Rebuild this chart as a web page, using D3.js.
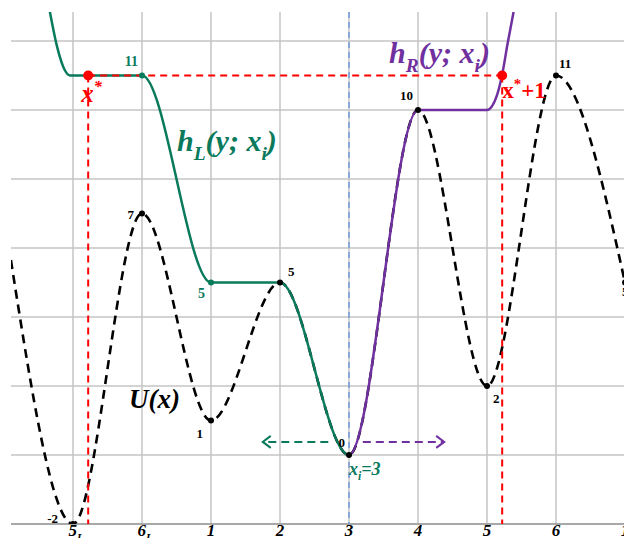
<!DOCTYPE html>
<html>
<head>
<meta charset="utf-8">
<script src="https://cdn.jsdelivr.net/npm/d3@7"></script>
<style>
  body { margin: 0; background: #fff; }
  svg { display: block; }
  text { font-family: "Liberation Serif", "DejaVu Serif", serif; font-weight: bold; }
</style>
</head>
<body>
<svg id="chart"></svg>
<script>
// x positions are in "site" units, 0 = 5_L
var tickLabels = ['5', '6', '1', '2', '3', '4', '5', '6', '1'];
var tickSubs = ['L', 'L', '', '', '', '', '', '', ''];
var gridValues = [-2, 0, 2, 4, 6, 8, 10, 12];

// U(x) - dashed potential
var uX = [-0.9, 0, 1, 2, 3, 4, 5, 6, 7, 8];
var uY = [5.65, -2, 7, 1, 5, 0, 10, 2, 11, 5];
var uLabels = ['', '-2', '7', '1', '5', '0', '10', '2', '11', '5'];

// h_L(y; x_i)
var hLX = [-0.34, -0.23, -0.12, -0.04, 1, 2, 3, 4, 4.001];
var hLY = [12.9, 11.83, 11.16, 11, 11, 5, 5, 0, 0];
var hLDots = [[1, 11, '11'], [2, 5, '5']];

// h_R(y; x_i)
var hRX = [3.999, 4, 5, 6, 6.145, 6.217, 6.3, 6.4];
var hRY = [0, 0, 10, 10, 10.43, 11, 11.94, 13];

var xi = 4;
var xStar = [0.22, 6.22];
var starLevel = 11;
var arrowLevel = 0.38;
var arrowL = [3.7, 2.75];
var arrowR = [4.2, 5.38];

var width = 624, height = 538;
var green = '#097a5c', purple = '#7030a0', red = '#ff0000';

var x = d3.scaleLinear().domain([0, 8]).range([73, 625]);
var y = d3.scaleLinear().domain([-2, 12]).range([524, 41]);
var plotLeft = 11, plotTop = 12, plotBottom = 524;

var svg = d3.select('#chart').attr('width', width).attr('height', height);

svg.append('defs').append('clipPath').attr('id', 'plot')
  .append('rect').attr('x', plotLeft).attr('y', plotTop)
  .attr('width', width - plotLeft).attr('height', plotBottom - plotTop);

// grid
svg.append('g').selectAll('line').data(d3.range(tickLabels.length)).enter().append('line')
  .attr('x1', d => x(d)).attr('x2', d => x(d))
  .attr('y1', plotTop).attr('y2', plotBottom)
  .attr('stroke', '#c4c4c4').attr('stroke-width', 1.5);

svg.append('g').selectAll('line').data(gridValues).enter().append('line')
  .attr('x1', plotLeft).attr('x2', width)
  .attr('y1', d => y(d)).attr('y2', d => y(d))
  .attr('stroke', d => d === -2 ? '#a8a8a8' : '#c4c4c4')
  .attr('stroke-width', d => d === -2 ? 2 : 1.5);

// text with sub / superscripts
function richText(sel, parts, size) {
  var shift = 0;
  parts.forEach(function(p) {
    var target = p[1] === 'sub' ? size * 0.3 : (p[1] === 'sup' ? -size * 0.4 : 0);
    var t = sel.append('tspan').text(p[0]).attr('dy', target - shift);
    if (p[1]) t.style('font-size', (size * 0.65) + 'px');
    shift = target;
  });
  return sel;
}

tickLabels.forEach(function(t, i) {
  var txt = svg.append('text')
    .attr('x', x(i) + (tickSubs[i] ? 3 : 0)).attr('y', 536)
    .attr('text-anchor', 'middle')
    .style('font-size', '17px').style('font-style', 'italic');
  richText(txt, [[t, null], [tickSubs[i], 'sub']], 17);
});

var plot = svg.append('g').attr('clip-path', 'url(#plot)');

// x_i marker
plot.append('line')
  .attr('x1', x(xi)).attr('x2', x(xi)).attr('y1', plotTop).attr('y2', plotBottom)
  .attr('stroke', '#5b8edb').attr('stroke-width', 1.2).attr('stroke-dasharray', '6,4');

var line = d3.line()
  .x(d => x(d[0])).y(d => y(d[1]))
  .curve(d3.curveMonotoneX);

plot.append('path')
  .attr('d', line(d3.zip(uX, uY)))
  .attr('fill', 'none').attr('stroke', '#000')
  .attr('stroke-width', 2.6).attr('stroke-dasharray', '9,6');

plot.append('path')
  .attr('d', line(d3.zip(hLX, hLY)))
  .attr('fill', 'none').attr('stroke', green).attr('stroke-width', 2.5);

plot.append('path')
  .attr('d', line(d3.zip(hRX, hRY)))
  .attr('fill', 'none').attr('stroke', purple).attr('stroke-width', 2.5);

// direction arrows
function arrow(pts, color) {
  var g = svg.append('g');
  var dir = pts[1] > pts[0] ? 1 : -1;
  var yy = y(arrowLevel);
  g.append('line')
    .attr('x1', x(pts[0])).attr('x2', x(pts[1]) - dir)
    .attr('y1', yy).attr('y2', yy)
    .attr('stroke', color).attr('stroke-width', 2).attr('stroke-dasharray', '8,5');
  var tip = x(pts[1]);
  g.append('path')
    .attr('d', 'M' + (tip - dir * 8) + ',' + (yy - 6) + 'L' + tip + ',' + yy + 'L' + (tip - dir * 8) + ',' + (yy + 6))
    .attr('fill', 'none').attr('stroke', color).attr('stroke-width', 2);
}
arrow(arrowL, green);
arrow(arrowR, purple);

// red x* construction
plot.append('line')
  .attr('x1', x(xStar[0])).attr('x2', x(xStar[1]))
  .attr('y1', y(starLevel)).attr('y2', y(starLevel))
  .attr('stroke', red).attr('stroke-width', 2).attr('stroke-dasharray', '7,5');

plot.selectAll('line.star').data(xStar).enter().append('line')
  .attr('x1', d => x(d)).attr('x2', d => x(d))
  .attr('y1', y(starLevel)).attr('y2', plotBottom)
  .attr('stroke', red).attr('stroke-width', 2).attr('stroke-dasharray', '7,5');

// dots
plot.selectAll('circle.u').data(d3.zip(uX, uY).slice(1)).enter().append('circle')
  .attr('cx', d => x(d[0])).attr('cy', d => y(d[1])).attr('r', 3).attr('fill', '#000');

svg.selectAll('circle.hl').data(hLDots).enter().append('circle')
  .attr('cx', d => x(d[0])).attr('cy', d => y(d[1])).attr('r', 3).attr('fill', green);

svg.selectAll('circle.star').data(xStar).enter().append('circle')
  .attr('cx', d => x(d)).attr('cy', y(starLevel)).attr('r', 5).attr('fill', red);

// labels at extrema of U
var uOff = [null, [-15, -1, 'end'], [-8, 5, 'end'], [-8, 17, 'end'], [8, -7, 'start'], [-4, -8, 'end'],
            [-5, -10, 'end'], [6, 17, 'start'], [3, -8, 'start'], [-3, 13, 'start']];
uLabels.forEach(function(t, i) {
  if (!t) return;
  var o = uOff[i];
  svg.append('text')
    .attr('x', x(uX[i]) + o[0]).attr('y', y(uY[i]) + o[1])
    .attr('text-anchor', o[2])
    .style('font-size', '13px').attr('fill', '#000')
    .text(t);
});

svg.append('text').attr('x', x(1) - 4).attr('y', y(11) - 10)
  .attr('text-anchor', 'end').attr('fill', green).style('font-size', '14px').text(hLDots[0][2]);
svg.append('text').attr('x', x(2) - 6).attr('y', y(5) + 15)
  .attr('text-anchor', 'end').attr('fill', green).style('font-size', '14px').text(hLDots[1][2]);

// curve names
richText(svg.append('text').attr('x', 177).attr('y', 151).attr('fill', green)
  .style('font-size', '30px').style('font-style', 'italic'),
  [['h', null], ['L', 'sub'], ['(y; x', null], ['i', 'sub'], [')', null]], 30);

richText(svg.append('text').attr('x', 389).attr('y', 63).attr('fill', purple)
  .style('font-size', '30px').style('font-style', 'italic'),
  [['h', null], ['R', 'sub'], ['(y; x', null], ['i', 'sub'], [')', null]], 30);

svg.append('text').attr('x', 129).attr('y', 408)
  .style('font-size', '27px').style('font-style', 'italic').text('U(x)');

richText(svg.append('text').attr('x', x(xi)).attr('y', 475).attr('fill', green)
  .style('font-size', '18px').style('font-style', 'italic'),
  [['x', null], ['i', 'sub'], ['=3', null]], 18);

richText(svg.append('text').attr('x', x(xStar[0]) - 7).attr('y', 102).attr('fill', red)
  .style('font-size', '25px').style('font-style', 'italic'),
  [['x', null], ['*', 'sup']], 25);

richText(svg.append('text').attr('x', x(xStar[1])).attr('y', 98).attr('fill', red)
  .style('font-size', '23px'),
  [['x', null], ['*', 'sup'], ['+1', null]], 23);
</script>
</body>
</html>
